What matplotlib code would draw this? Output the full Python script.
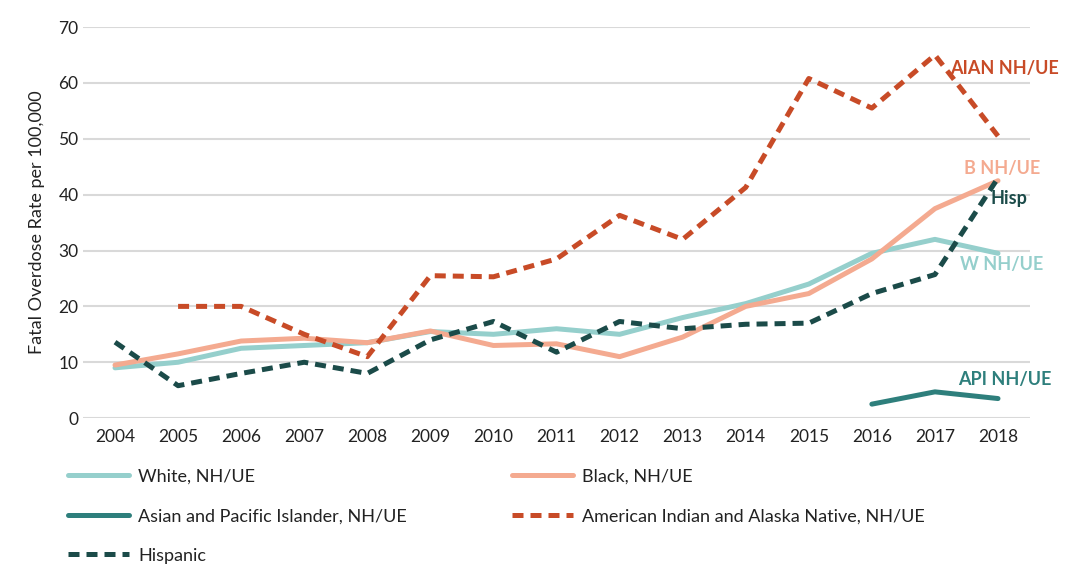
import matplotlib.pyplot as plt
import numpy as np

plt.rcParams['font.family'] = ['Lato', 'DejaVu Sans']

years = list(range(2004, 2019))
white = [9.0, 10.0, 12.5, 13.0, 13.5, 15.5, 15.0, 16.0, 15.0, 18.0, 20.5, 24.0, 29.5, 32.0, 29.5]
black = [9.5, 11.5, 13.8, 14.3, 13.5, 15.6, 13.0, 13.3, 11.0, 14.5, 20.0, 22.3, 28.5, 37.5, 42.5]
api = [None] * 12 + [2.5, 4.7, 3.5]
aian = [None, 20.0, 20.0, 15.0, 11.0, 25.5, 25.3, 28.5, 36.3, 32.0, 41.3, 60.8, 55.5, 65.0, 50.5]
hisp = [13.6, 5.8, 8.0, 10.0, 8.0, 14.0, 17.3, 11.8, 17.3, 16.0, 16.8, 17.0, 22.3, 25.7, 43.0]

c_white = '#95CFCC'
c_black = '#F4AA90'
c_api = '#2E7F7C'
c_aian = '#C84B27'
c_hisp = '#1B4B49'

def arr(v):
    return np.array([np.nan if x is None else x for x in v], dtype=float)

fig = plt.figure(figsize=(10.73, 5.65), dpi=100)
ax = fig.add_axes([0.0778, 0.260, 0.8817, 0.692])

lw = 3.6
l1, = ax.plot(years, arr(white), color=c_white, lw=lw, label='White, NH/UE', solid_capstyle='round')
l2, = ax.plot(years, arr(black), color=c_black, lw=lw, label='Black, NH/UE', solid_capstyle='round')
l3, = ax.plot(years, arr(api), color=c_api, lw=lw, label='Asian and Pacific Islander, NH/UE', solid_capstyle='round')
l4, = ax.plot(years, arr(aian), color=c_aian, lw=lw, ls=(0, (2.2, 1.4)),
              label='American Indian and Alaska Native, NH/UE')
l5, = ax.plot(years, arr(hisp), color=c_hisp, lw=lw, ls=(0, (2.2, 1.4)), label='Hispanic')

ax.set_xlim(2003.5, 2018.5)
ax.set_ylim(0, 70)
ax.set_yticks(range(0, 71, 10))
ax.set_xticks(years)
ax.tick_params(length=0, labelsize=12.5, colors='#222222')
ax.tick_params(axis='x', pad=8)
ax.grid(axis='y', color='#d9d9d9', lw=1.5)
ax.set_axisbelow(True)
for s in ax.spines.values():
    s.set_visible(False)
ax.set_ylabel('Fatal Overdose Rate per 100,000', fontsize=13, color='#222222', labelpad=10)

# end labels
ax.text(2018.1, 62.6, 'AIAN NH/UE', color=c_aian, fontsize=13, fontweight='bold', ha='center', va='center')
ax.text(2018.07, 44.6, 'B NH/UE', color=c_black, fontsize=13, fontweight='bold', ha='center', va='center')
ax.text(2018.17, 39.4, 'Hisp', color=c_hisp, fontsize=13, fontweight='bold', ha='center', va='center')
ax.text(2018.06, 27.5, 'W NH/UE', color=c_white, fontsize=13, fontweight='bold', ha='center', va='center')
ax.text(2018.1, 7.0, 'API NH/UE', color=c_api, fontsize=13, fontweight='bold', ha='center', va='center')
for t in ax.texts:
    t.set_clip_on(False)

# order so rows read White/Black, API/AIAN, Hispanic
handles = [l1, l3, l5, l2, l4]
fig.legend(handles=handles, labels=[h.get_label() for h in handles], ncol=2,
           loc='upper left', bbox_to_anchor=(0.048, 0.199), frameon=False,
           fontsize=13, handlelength=3.4, handletextpad=0.5, columnspacing=5.8,
           labelspacing=1.3, labelcolor='#222222')

fig.savefig('out.png', dpi=100)
